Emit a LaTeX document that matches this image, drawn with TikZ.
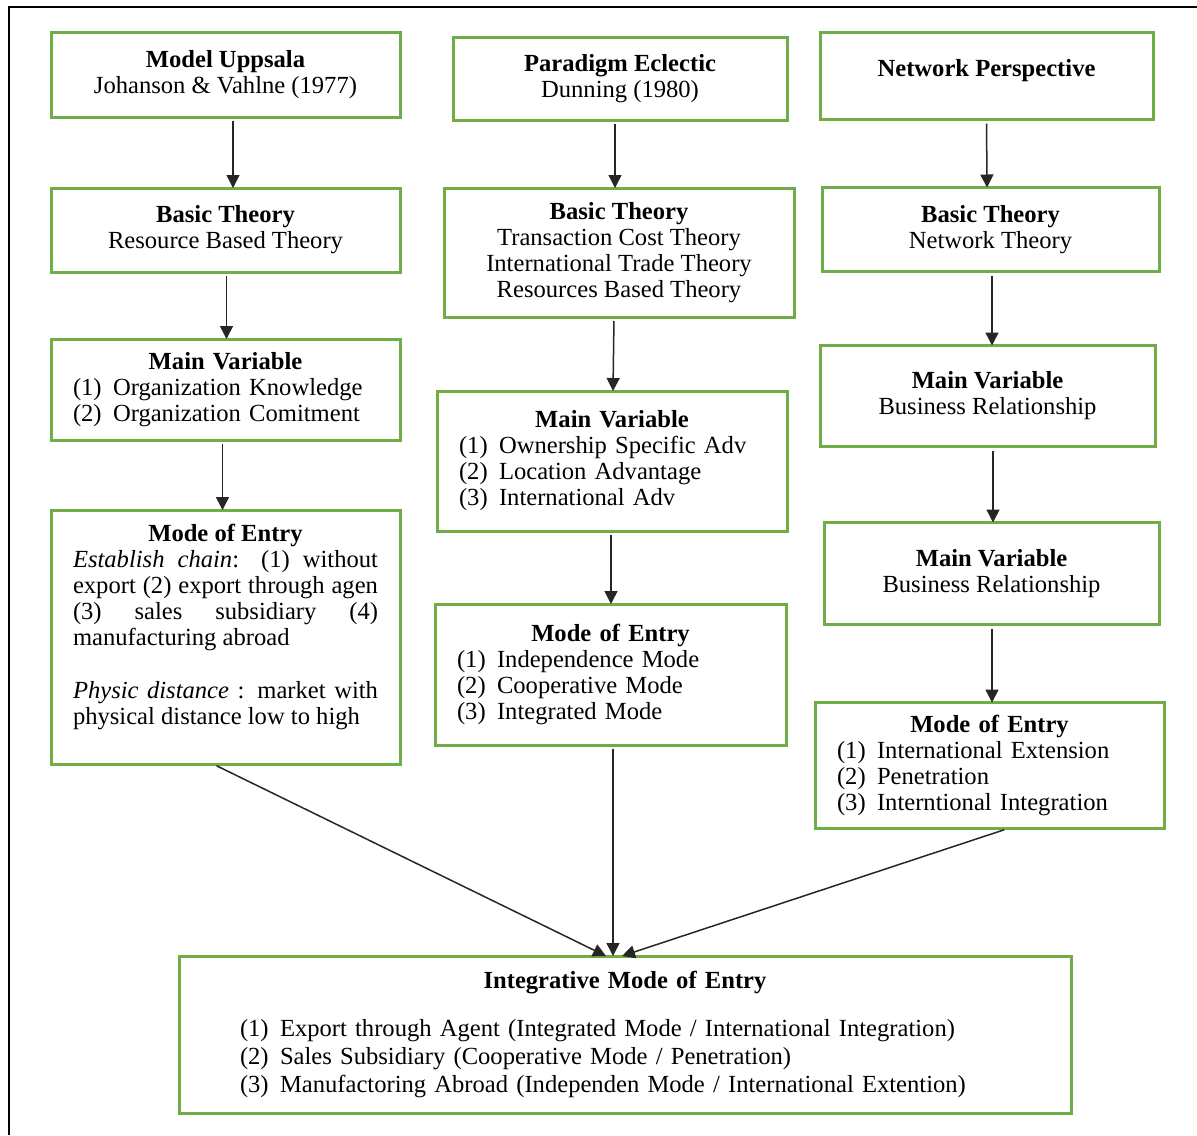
\documentclass[tikz,border=0pt]{standalone}
\usepackage{fontspec}
\setmainfont{Liberation Serif}
\usetikzlibrary{arrows.meta,positioning}
\definecolor{boxgreen}{RGB}{112,173,71}
\newcommand{\itm}[1]{\makebox[20pt][l]{(#1)}}

\begin{document}
\begin{tikzpicture}[x=0.5pt, y=-0.5pt, >={Triangle[length=6.5pt,width=6.5pt]},
  font=\fontsize{12.3}{13}\selectfont,
  box/.style={draw=boxgreen, line width=1.5pt, inner xsep=11pt, inner ysep=0pt, outer sep=0pt, align=center},
  listbox/.style={box, align=left},
  arr/.style={->, line width=0.75pt, draw=black!85, shorten <=2pt}]
  \useasboundingbox (0,0) rectangle (1197,1135);
  % page frame
  \draw[line width=0.75pt] (9,1135) -- (9,7) -- (1197,7);

  % column 1: Uppsala model
  \node[box, minimum width=174.5pt, minimum height=42.5pt] (up) at (225.5,74.5) {\textbf{Model Uppsala}\\Johanson \& Vahlne (1977)};
  \node[box, minimum width=174.5pt, minimum height=42pt, below=35.5pt of up] (bt1) {\textbf{Basic Theory}\\Resource Based Theory};
  \node[listbox, text width=152.5pt, minimum height=50.5pt, below=33.5pt of bt1] (mv1) {{\centering\textbf{Main Variable}\par}\itm{1}Organization Knowledge\\\itm{2}Organization Comitment};
  \node[box, align=justify, text width=152.5pt, minimum height=127pt, below=35pt of mv1] (me1) {{\centering\textbf{Mode of Entry}\par}\textit{Establish chain}: (1) without\linebreak export (2) export through agen\linebreak (3) sales subsidiary (4)\linebreak manufacturing abroad\par\vspace{13.5pt}\textit{Physic distance} : market with\linebreak physical distance low to high\par\mbox{}};

  % column 2: eclectic paradigm
  \node[box, minimum width=167pt, minimum height=41.5pt] (pe) at (620,78.5) {\textbf{Paradigm Eclectic}\\Dunning (1980)};
  \node[box, minimum width=175pt, minimum height=64.5pt, below=34pt of pe, xshift=-0.5pt] (bt2) {\textbf{Basic Theory}\\Transaction Cost Theory\\International Trade Theory\\Resources Based Theory};
  \node[listbox, text width=153pt, minimum height=70pt, below=37pt of bt2, xshift=-3.5pt] (mv2) {{\centering\textbf{Main Variable}\par}\itm{1}Ownership Specific Adv\\\itm{2}Location Advantage\\\itm{3}International Adv};
  \node[listbox, text width=153.5pt, minimum height=70.5pt, below=36.5pt of mv2, xshift=-0.75pt] (me2) {{\centering\textbf{Mode of Entry}\par}\itm{1}Independence Mode\\\itm{2}Cooperative Mode\\\itm{3}Integrated Mode};

  % column 3: network perspective
  \node[box, minimum width=166.5pt, minimum height=43.5pt] (np) at (986.5,76) {\raisebox{8.5pt}{\textbf{Network Perspective}}};
  \node[box, minimum width=168.5pt, minimum height=42pt, below=34pt of np, xshift=2pt] (bt3) {\textbf{Basic Theory}\\Network Theory};
  \node[box, minimum width=167.5pt, minimum height=50.5pt, below=37pt of bt3, xshift=-1.5pt] (mv3) {\textbf{Main Variable}\\Business Relationship};
  \node[box, minimum width=167.5pt, minimum height=51pt, below=38pt of mv3, xshift=2pt] (mv4) {\textbf{Main Variable}\\Business Relationship};
  \node[listbox, text width=152.5pt, minimum height=63pt, below=39pt of mv4, xshift=-1pt] (me3) {{\centering\textbf{Mode of Entry}\par}\itm{1}International Extension\\\itm{2}Penetration\\\itm{3}Interntional Integration};

  % integrative box
  \node[listbox, text width=424pt, minimum height=78.5pt] (ime) at (625,1034.5) {{\centering\textbf{Integrative Mode of Entry}\par}\vspace{10pt}\fontsize{12.3}{14}\selectfont\leftskip=19.5pt
    \itm{1}Export through Agent (Integrated Mode / International Integration)\\
    \itm{2}Sales Subsidiary (Cooperative Mode / Penetration)\\
    \itm{3}Manufactoring Abroad (Independen Mode / International Extention)\par};

  % flow arrows
  \draw[arr] ([xshift=3.75pt]up.south) -- ([xshift=3.75pt]bt1.north);
  \draw[arr] ([xshift=0.5pt]bt1.south) -- ([xshift=0.5pt]mv1.north);
  \draw[arr] ([xshift=-1.5pt]mv1.south) -- ([xshift=-1.5pt]me1.north);
  \draw[arr] ([xshift=-2.5pt]pe.south) -- ([xshift=-2pt]bt2.north);
  \draw[arr] ([xshift=-2.5pt]bt2.south) -- ([xshift=0.5pt]mv2.north);
  \draw[arr] ([xshift=-0.5pt]mv2.south) -- ([xshift=0.25pt]me2.north);
  \draw[arr] (np.south) -- ([xshift=-1.75pt]bt3.north);
  \draw[arr] ([xshift=0.75pt]bt3.south) -- ([xshift=2.25pt]mv3.north);
  \draw[arr] ([xshift=2.75pt]mv3.south) -- ([xshift=0.75pt]mv4.north);
  \draw[arr] ([xshift=0.25pt]mv4.south) -- ([xshift=1.25pt]me3.north);

  % converging arrows
  \draw[arr] ([xshift=-6.25pt]me1.south) -- ([xshift=-9.5pt]ime.north);
  \draw[arr] ([xshift=1.25pt]me2.south) -- ([xshift=-6pt]ime.north);
  \draw[arr] ([xshift=9.25pt]me3.south) -- ([xshift=-1.5pt]ime.north);
\end{tikzpicture}
\end{document}
